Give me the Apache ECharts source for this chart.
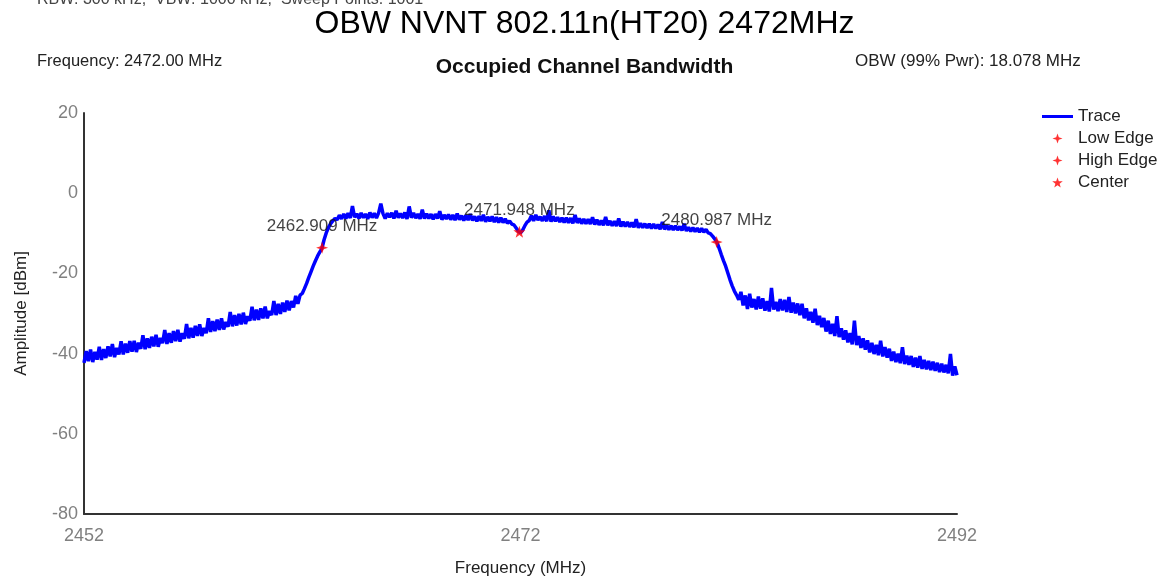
<!DOCTYPE html>
<html>
<head>
<meta charset="utf-8">
<title>OBW NVNT 802.11n(HT20) 2472MHz</title>
<script src="https://cdn.jsdelivr.net/npm/echarts@6/dist/echarts.min.js"></script>
<style>
  html, body { margin: 0; padding: 0; background: #ffffff; }
  #chart { width: 1169px; height: 584px; }
</style>
</head>
<body>
<div id="chart"></div>
<script>
// Spectrum trace: one amplitude reading (dBm) every 0.1 MHz from 2452 MHz to 2492 MHz
const freqStart = 2452;
const freqStep = 0.1;
const traceDbm = [
  -42.3, -39.4, -41.9, -39.0, -42.1, -39.6, -41.5, -38.3, -41.6, -38.9,
  -41.1, -38.2, -40.7, -37.6, -40.9, -38.6, -40.2, -36.9, -40.2, -37.5,
  -39.8, -36.9, -39.5, -36.8, -39.6, -37.3, -38.8, -35.4, -38.9, -36.2,
  -38.6, -35.8, -38.2, -35.3, -38.3, -36.1, -37.4, -34.1, -37.6, -34.9,
  -37.3, -34.4, -36.9, -34.1, -37.0, -34.9, -36.3, -32.6, -36.2, -33.6,
  -36.0, -33.1, -35.6, -32.7, -35.6, -33.6, -34.9, -31.2, -34.6, -31.9,
  -34.4, -31.5, -34.1, -31.2, -34.0, -32.1, -33.3, -29.6, -33.2, -30.4,
  -33.0, -30.1, -32.7, -29.8, -32.6, -30.7, -31.8, -28.3, -31.7, -29.0,
  -31.6, -28.7, -31.2, -28.3, -31.2, -29.4, -30.4, -26.9, -30.4, -27.6,
  -30.1, -27.3, -29.6, -26.8, -29.2, -26.9, -28.5, -25.6, -27.6, -25.4,
  -25.0, -23.8, -22.5, -21.0, -19.6, -18.2, -16.9, -15.7, -14.7, -13.8,
  -11.6, -9.9, -8.6, -7.6, -6.9, -6.3, -6.6, -5.5, -6.4, -5.2,
  -6.3, -5.0, -6.2, -3.2, -6.0, -5.1, -6.3, -4.9, -6.1, -5.2,
  -6.4, -4.8, -6.1, -5.0, -6.2, -4.9, -2.6, -5.1, -6.3, -5.0,
  -6.0, -4.9, -6.3, -4.4, -6.1, -5.1, -6.2, -4.8, -6.4, -3.3,
  -6.1, -4.9, -6.2, -5.2, -6.4, -4.1, -6.3, -5.1, -6.3, -5.2,
  -6.5, -5.2, -6.3, -4.5, -6.6, -5.4, -6.4, -5.3, -6.6, -5.4,
  -6.7, -5.1, -6.6, -5.6, -6.8, -5.5, -6.7, -5.2, -6.8, -5.8,
  -7.0, -5.7, -6.9, -5.4, -7.1, -5.9, -7.0, -5.8, -7.2, -6.0,
  -7.3, -6.1, -7.3, -6.4, -7.5, -6.9, -7.7, -7.9, -8.7, -9.5,
  -9.9, -9.2, -8.1, -7.2, -6.8, -5.6, -6.9, -5.4, -6.7, -5.9,
  -6.9, -5.7, -7.0, -4.3, -7.1, -5.8, -7.0, -6.0, -7.2, -6.1,
  -7.3, -6.1, -7.4, -6.2, -7.5, -5.4, -7.4, -6.3, -7.6, -6.4,
  -7.6, -6.5, -7.7, -6.0, -7.8, -6.6, -7.9, -6.8, -8.0, -5.9,
  -8.0, -6.9, -8.1, -7.0, -8.2, -6.3, -8.3, -7.1, -8.3, -7.2,
  -8.4, -7.3, -8.5, -6.5, -8.6, -7.5, -8.6, -7.6, -8.7, -7.6,
  -8.8, -7.7, -8.8, -7.8, -9.0, -7.2, -9.0, -8.0, -9.1, -8.1,
  -9.2, -8.1, -9.2, -8.3, -9.3, -7.6, -9.4, -8.5, -9.5, -8.6,
  -9.6, -8.7, -9.7, -8.8, -9.7, -9.0, -9.9, -10.1, -10.7, -11.4,
  -12.2, -13.7, -15.3, -16.8, -18.2, -19.9, -21.6, -23.1, -24.4, -25.4,
  -26.6, -24.6, -28.0, -25.5, -28.9, -25.1, -28.5, -26.4, -29.0, -25.8,
  -28.8, -26.2, -29.3, -26.9, -29.5, -23.6, -29.0, -27.1, -29.4, -26.4,
  -29.2, -26.6, -29.6, -25.9, -29.8, -27.3, -30.0, -27.5, -30.4, -27.6,
  -31.2, -28.7, -31.7, -29.6, -32.3, -28.8, -32.9, -30.6, -33.4, -31.1,
  -34.5, -31.8, -35.1, -32.6, -35.6, -30.7, -35.9, -33.7, -36.5, -34.2,
  -37.2, -34.9, -37.7, -31.8, -37.9, -35.6, -38.6, -36.2, -39.0, -36.7,
  -39.7, -37.3, -40.1, -37.8, -40.4, -36.8, -40.7, -38.4, -41.0, -38.8,
  -41.8, -39.5, -42.1, -40.0, -42.4, -38.4, -42.6, -40.5, -42.8, -40.6,
  -43.3, -41.0, -43.5, -40.6, -43.8, -41.6, -43.9, -41.8, -44.1, -42.0,
  -44.3, -42.3, -44.6, -42.5, -44.7, -42.8, -44.9, -40.1, -45.5, -43.2,
  -45.4
];

// Occupied-bandwidth markers: [frequency MHz, amplitude dBm]
const lowEdge = [2462.909, -13.6];
const highEdge = [2480.987, -12.2];
const centerMark = [2471.948, -9.6];

// Axis ranges
const xTicks = [2452, 2472, 2492];
const yTicks = [-80, -60, -40, -20, 0, 20];

// Header texts
const pageTitle = 'OBW NVNT 802.11n(HT20) 2472MHz';
const sweepInfo = 'RBW: 300 kHz,  VBW: 1000 kHz,  Sweep Points: 1001';
const centerFreqText = 'Frequency: 2472.00 MHz';
const plotTitle = 'Occupied Channel Bandwidth';
const obwText = 'OBW (99% Pwr): 18.078 MHz';

const FONT = 'Arial, "Liberation Sans", sans-serif';
const STAR4 = 'path://M0,-5L1.3,-1.3L5,0L1.3,1.3L0,5L-1.3,1.3L-5,0L-1.3,-1.3Z';
const STAR5 = 'path://M0,-5L1.18,-1.62L4.76,-1.55L1.9,0.62L2.94,4.05L0,2L-2.94,4.05L-1.9,0.62L-4.76,-1.55L-1.18,-1.62Z';
const BAR = 'path://M0,0H31V3H0Z';

const traceData = traceDbm.map((v, i) => [+(freqStart + i * freqStep).toFixed(1), v]);

const markerLabel = {
  show: true,
  position: 'top',
  distance: 7,
  fontFamily: FONT,
  fontSize: 17,
  color: '#111',
  formatter: p => p.value[0].toFixed(3) + ' MHz'
};

const chart = echarts.init(document.getElementById('chart'), null, { renderer: 'canvas' });

chart.setOption({
  backgroundColor: '#ffffff',
  animation: false,
  textStyle: { fontFamily: FONT },
  graphic: [
    { type: 'text', left: 37, top: -8, style: { text: sweepInfo, font: '16px ' + FONT, fill: '#444' } },
    { type: 'text', left: 'center', top: 8, style: { text: pageTitle, font: '32px ' + FONT, fill: '#000' } },
    { type: 'text', left: 37, top: 53, style: { text: centerFreqText, font: '16.5px ' + FONT, fill: '#222' } },
    { type: 'text', left: 'center', top: 57, style: { text: plotTitle, font: 'bold 21px ' + FONT, fill: '#111' } },
    { type: 'text', left: 855, top: 53, style: { text: obwText, font: '17px ' + FONT, fill: '#222' } }
  ],
  legend: {
    orient: 'vertical',
    left: 1037,
    top: 103,
    itemWidth: 31,
    itemHeight: 10,
    itemGap: 5,
    textStyle: { fontFamily: FONT, fontSize: 17, color: '#222', lineHeight: 17 },
    data: [
      { name: 'Trace', icon: BAR },
      { name: 'Low Edge', icon: STAR4 },
      { name: 'High Edge', icon: STAR4 },
      { name: 'Center', icon: STAR5 }
    ]
  },
  grid: { left: 84, top: 113, right: 212, bottom: 70 },
  xAxis: {
    type: 'value',
    min: xTicks[0],
    max: xTicks[xTicks.length - 1],
    interval: xTicks[1] - xTicks[0],
    name: 'Frequency (MHz)',
    nameLocation: 'middle',
    nameGap: 46,
    nameTextStyle: { fontFamily: FONT, fontSize: 17, color: '#222' },
    axisLine: { show: true, onZero: false, lineStyle: { color: '#333', width: 2 } },
    axisTick: { show: false },
    splitLine: { show: false },
    axisLabel: { color: '#808080', fontSize: 18, margin: 13, fontFamily: FONT, formatter: v => String(v) }
  },
  yAxis: {
    type: 'value',
    min: yTicks[0],
    max: yTicks[yTicks.length - 1],
    interval: yTicks[1] - yTicks[0],
    name: 'Amplitude [dBm]',
    nameLocation: 'middle',
    nameGap: 54,
    nameTextStyle: { fontFamily: FONT, fontSize: 17, color: '#222' },
    axisLine: { show: true, onZero: false, lineStyle: { color: '#333', width: 2 } },
    axisTick: { show: false },
    splitLine: { show: false },
    axisLabel: { color: '#808080', fontSize: 18, margin: 6, fontFamily: FONT }
  },
  series: [
    {
      name: 'Trace',
      type: 'line',
      data: traceData,
      color: '#0000ff',
      showSymbol: false,
      symbol: 'none',
      lineStyle: { color: '#0000ff', width: 3.5 },
      z: 2
    },
    {
      name: 'Low Edge',
      type: 'scatter',
      data: [lowEdge],
      symbol: STAR4,
      symbolSize: 12,
      color: '#ff0000',
      itemStyle: { color: '#ff0000' },
      label: markerLabel,
      z: 3
    },
    {
      name: 'High Edge',
      type: 'scatter',
      data: [highEdge],
      symbol: STAR4,
      symbolSize: 12,
      color: '#ff0000',
      itemStyle: { color: '#ff0000' },
      label: markerLabel,
      z: 3
    },
    {
      name: 'Center',
      type: 'scatter',
      data: [centerMark],
      symbol: STAR5,
      symbolSize: 12,
      color: '#ff0000',
      itemStyle: { color: '#ff0000' },
      label: markerLabel,
      z: 3
    }
  ]
});
</script>
</body>
</html>
